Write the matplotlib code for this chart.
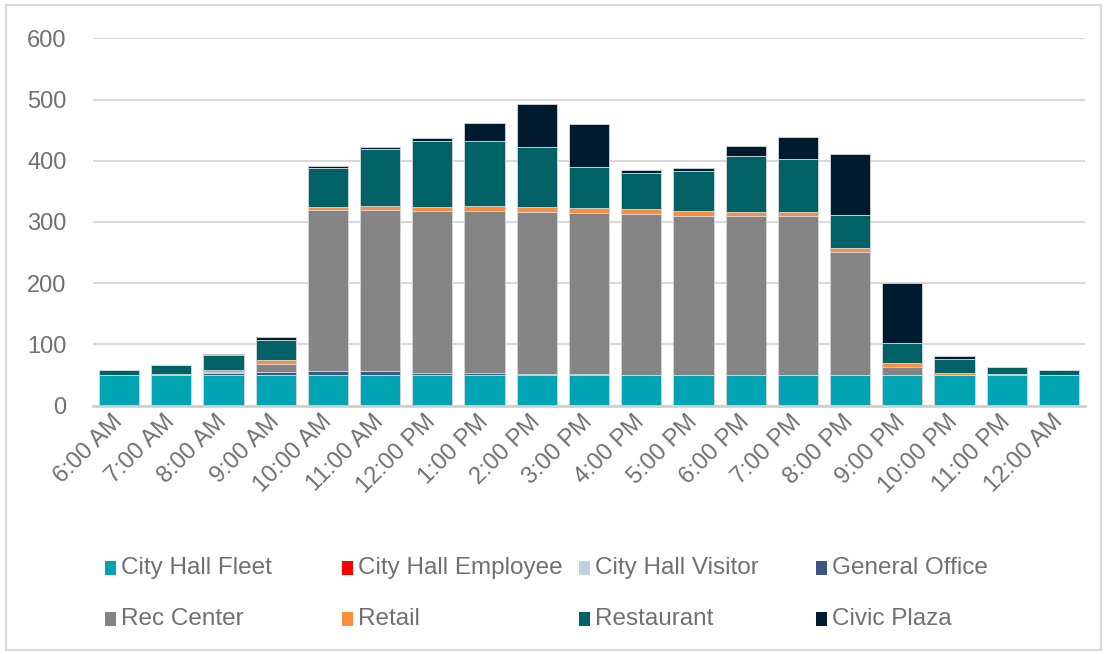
import numpy as np
import matplotlib
matplotlib.use("Agg")
import matplotlib.pyplot as plt
from matplotlib.patches import Rectangle

hours = ["6:00 AM", "7:00 AM", "8:00 AM", "9:00 AM", "10:00 AM", "11:00 AM",
         "12:00 PM", "1:00 PM", "2:00 PM", "3:00 PM", "4:00 PM", "5:00 PM",
         "6:00 PM", "7:00 PM", "8:00 PM", "9:00 PM", "10:00 PM", "11:00 PM",
         "12:00 AM"]

city_hall_fleet = [50, 50, 50, 50, 50, 50, 50, 50, 50, 50, 50, 50, 50, 50, 50, 50, 50, 50, 50]
city_hall_employee = [0] * 19
city_hall_visitor = [0] * 19
general_office = [0, 0, 3, 5.5, 6, 6, 4, 4, 2, 2, 0.5, 0, 0, 0, 0, 0, 0, 0, 0]
rec_center = [0, 2.5, 2.5, 13, 263, 263, 263.5, 264, 264.5, 263, 263, 260.5, 260, 260, 201.5, 13.5, 0, 1.5, 0]
retail = [0, 0, 2.5, 5.5, 5.5, 6.5, 7.5, 7.5, 8, 7.5, 8, 7, 6.5, 6, 6.5, 5.5, 3, 0, 0]
restaurant = [8, 14, 25.5, 34, 63, 93.5, 107, 106, 97.5, 67, 59, 66, 91, 87, 54, 34, 23.5, 12, 8]
civic_plaza = [0, 0, 1, 3.5, 3.5, 4, 5, 30, 70, 70.5, 5, 5.5, 17, 35.5, 98.5, 98, 4, 0, 0]

series = [
    ("City Hall Fleet", city_hall_fleet, "#00a4b2"),
    ("City Hall Employee", city_hall_employee, "#ff0000"),
    ("City Hall Visitor", city_hall_visitor, "#bfd1e6"),
    ("General Office", general_office, "#3b5680"),
    ("Rec Center", rec_center, "#848484"),
    ("Retail", retail, "#ff8c3d"),
    ("Restaurant", restaurant, "#006166"),
    ("Civic Plaza", civic_plaza, "#001b2e"),
]

text_color = "#707070"
plt.rcParams["font.family"] = ["Liberation Sans", "DejaVu Sans"]

fig = plt.figure(figsize=(11.08, 6.54), dpi=100)
ax = fig.add_axes([93 / 1108, 1 - 405.7 / 654, (1085 - 93) / 1108, (405.7 - 38.3) / 654])

x = np.arange(len(hours))
bottom = np.zeros(len(hours))
for name, vals, color in series:
    vals = np.array(vals, dtype=float)
    ax.bar(x, vals, 0.77, bottom=bottom, color=color, edgecolor="#d3d8db",
           linewidth=0.6, zorder=3)
    bottom += vals

ax.set_xlim(-0.5, len(hours) - 0.5)
ax.set_ylim(0, 600)
ax.set_yticks(range(0, 601, 100))
ax.yaxis.grid(True, color="#d9d9d9", linewidth=1.5, zorder=0)
ax.set_axisbelow(True)
for side in ["top", "right", "left"]:
    ax.spines[side].set_visible(False)
ax.spines["bottom"].set_color("#d0d0d0")
ax.spines["bottom"].set_linewidth(2)
ax.spines["bottom"].set_zorder(4)

ax.tick_params(axis="y", length=0, pad=19, labelsize=17, labelcolor=text_color)
ax.tick_params(axis="x", length=0, pad=9, labelsize=17, labelcolor=text_color)
ax.set_xticks(x)
ax.set_xticklabels(hours, rotation=45, ha="right", va="center",
                   rotation_mode="anchor")

# legend laid out on a fixed grid, four per row
for i, (name, vals, color) in enumerate(series):
    col, row = i % 4, i // 4
    lx = 105 + col * 237
    ly = 568 + row * 51
    fig.add_artist(Rectangle((lx / 1108, 1 - (ly + 7) / 654), 11 / 1108, 14 / 654,
                             transform=fig.transFigure, facecolor=color,
                             edgecolor="none"))
    fig.text((lx + 16) / 1108, 1 - ly / 654, name, fontsize=17.5,
             color=text_color, va="center", ha="left")

fig.add_artist(Rectangle((6 / 1108, 4 / 654), 1095 / 1108, 645 / 654,
                         transform=fig.transFigure, facecolor="none",
                         edgecolor="#d9d9d9", linewidth=1.5))

fig.savefig("out.png", dpi=100)
